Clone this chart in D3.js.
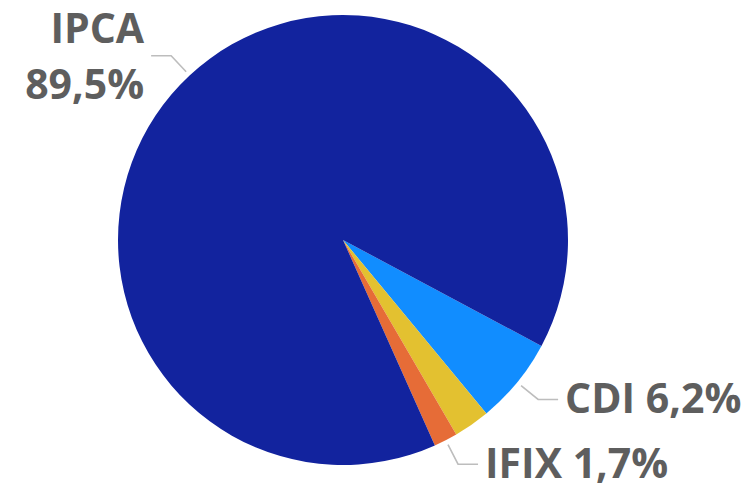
<!DOCTYPE html>
<html><head><meta charset="utf-8">
<script src="https://cdn.jsdelivr.net/npm/d3@7"></script>
<style>body{margin:0;background:#fff}svg{display:block}</style>
</head><body>
<script>
const categories = ["CDI", "Prefixado", "IFIX", "IPCA"];
const values = [6.2, 2.6, 1.7, 89.5];
const labels = ["CDI 6,2%", null, "IFIX 1,7%", "IPCA\n89,5%"];
const colors = ["#118DFF", "#E3C130", "#E66C37", "#12239E"];

const W = 749, H = 488, cx = 343, cy = 240, R = 225;
const svg = d3.select("body").append("svg").attr("width", W).attr("height", H);
const g = svg.append("g").attr("transform", `translate(${cx},${cy})`);

const start = 118.1 * Math.PI / 180;
const pie = d3.pie().sort(null).startAngle(start).endAngle(start + 2 * Math.PI);
const arcs = pie(values);
const arc = d3.arc().innerRadius(0).outerRadius(R);

g.selectAll("path.s").data(arcs).join("path").attr("class", "s")
  .attr("d", arc).attr("fill", (d, i) => colors[i]);

const pt = (a, r) => [Math.sin(a) * r, -Math.cos(a) * r];
arcs.forEach((d, i) => {
  if (!labels[i]) return;
  const m = (d.startAngle + d.endAngle) / 2;
  const p1 = pt(m, 230), p2 = pt(m, 252);
  const side = Math.sin(m) >= 0 ? 1 : -1;
  const p3 = [p2[0] + side * 20, p2[1]];
  g.append("polyline").attr("points", [p1, p2, p3].map(p => p.join(",")).join(" "))
    .attr("fill", "none").attr("stroke", "#BDBDBD").attr("stroke-width", 1.6);
  const lines = labels[i].split("\n");
  const t = g.append("text").attr("x", p3[0] + side * 7).attr("y", p3[1])
    .attr("text-anchor", side > 0 ? "start" : "end")
    .attr("font-family", "'Open Sans', sans-serif").attr("font-weight", 700)
    .attr("font-size", 41).attr("fill", "#5E5E5E");
  const lh = 56;
  const off = -(lines.length - 1) * lh / 2 + (lines.length > 1 ? 2 : 0);
  lines.forEach((l, k) => {
    t.append("tspan").attr("x", p3[0] + side * 7).attr("y", p3[1] + off + k * lh)
      .attr("dy", "0.33em").text(l);
  });
});
</script>
</body></html>
